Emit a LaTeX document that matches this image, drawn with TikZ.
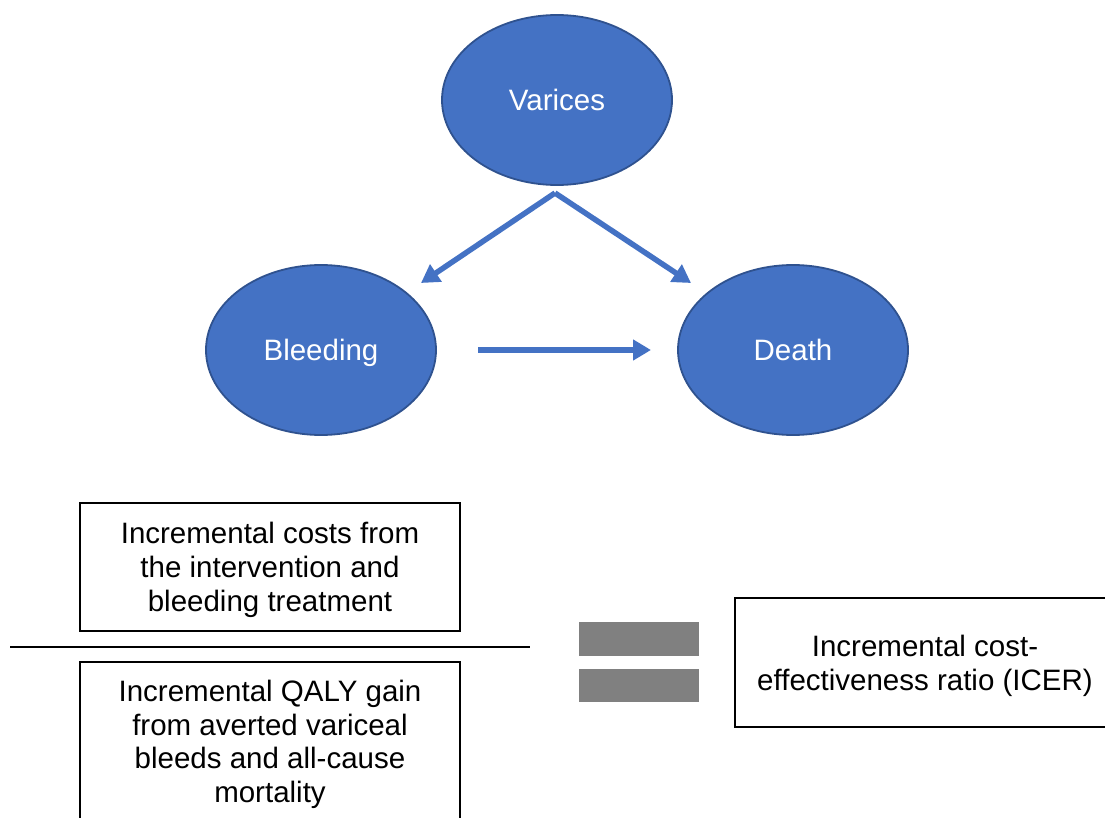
\documentclass[tikz,border=0pt]{standalone}
\usepackage{fontspec}
\setmainfont{Liberation Sans}
\usetikzlibrary{shapes.geometric,arrows.meta}
\definecolor{nodeblue}{HTML}{4472C4}
\definecolor{nodeedge}{HTML}{2F528F}
\definecolor{bargray}{HTML}{808080}
\tikzset{
  state/.style={ellipse, fill=nodeblue, draw=nodeedge, line width=1.8pt,
    minimum width=230pt, minimum height=170pt, text=white, text depth=0pt,
    font=\fontsize{29.5}{34}\selectfont},
  flow/.style={draw=nodeblue, line width=5.5pt,
    -{Triangle[length=18pt,width=20pt]}},
  frame/.style={draw=black, line width=1.3pt, inner sep=0pt},
  boxtext/.style={align=center, inner sep=0pt,
    font=\fontsize{29.5}{33.7}\selectfont},
  bar/.style={fill=bargray, draw=none, inner sep=0pt}
}
\begin{document}
\begin{tikzpicture}[x=1pt,y=-1pt]
\useasboundingbox (0,0) rectangle (1105,818);
\clip (0,0) rectangle (1105,818);
% states
\node[state] (varices) at (557,100) {Varices};
\node[state] (bleeding) at (321,350) {Bleeding};
\node[state] (death) at (793,350) {Death};
% arrows
\coordinate (apex) at (555,193);
\coordinate (tipL) at (421,283);
\coordinate (tipR) at (691,283);
\coordinate (hs) at (478,350);
\coordinate (he) at (651,350);
\draw[flow] (apex) -- (tipL);
\draw[flow] (apex) -- (tipR);
\draw[flow] (hs) -- (he);
% fraction
\node[frame, minimum width=380pt, minimum height=128pt] (costs) at (270,567) {};
\node[boxtext, yshift=-3pt] (coststext) at (costs.center)
  {Incremental costs from\\the intervention and\\bleeding treatment};
\coordinate (fracL) at (10,647);
\coordinate (fracR) at (530,647);
\draw[line width=1.3pt] (fracL) -- (fracR);
\node[frame, minimum width=380pt, minimum height=160pt] (qaly) at (270,742) {};
\node[boxtext, yshift=-2.5pt] (qalytext) at (qaly.center)
  {Incremental QALY gain\\from averted variceal\\bleeds and all-cause\\mortality};
% equals sign
\node[bar, minimum width=120pt, minimum height=34pt] (eqtop) at (639,639) {};
\node[bar, minimum width=120pt, minimum height=33pt] (eqbot) at (639,685.5) {};
% result
\node[frame, minimum width=380pt, minimum height=129pt] (icer) at (925,662.5) {};
\node[boxtext, yshift=-3.5pt] (icertext) at (icer.center)
  {Incremental cost-\\effectiveness ratio (ICER)};
\end{tikzpicture}
\end{document}
